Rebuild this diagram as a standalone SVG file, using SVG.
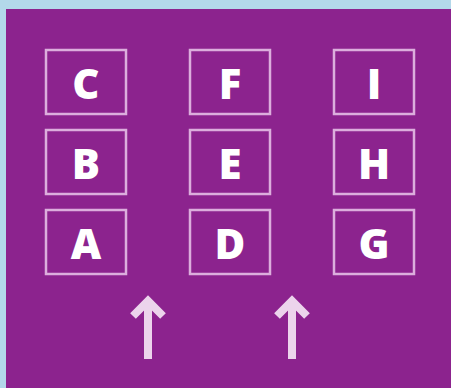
<svg xmlns="http://www.w3.org/2000/svg" width="451" height="388" viewBox="0 0 451 388">
<style>
.box{fill:none;stroke:#dcaedd;stroke-width:2.5}
.lbl{fill:#ffffff;font-family:"Open Sans","Liberation Sans",sans-serif;font-weight:800;font-size:42px;text-anchor:middle}
.arr{fill:none;stroke:#ecd4ec;stroke-width:8;stroke-linejoin:miter}
</style>
<rect x="0" y="0" width="451" height="388" fill="#b3d8ea"/>
<rect x="6" y="9" width="445" height="379" fill="#8c238e"/>
<g id="C"><rect class="box" x="46" y="50" width="80" height="64"/><text class="lbl" x="86" y="99">C</text></g>
<g id="B"><rect class="box" x="46" y="130" width="80" height="64"/><text class="lbl" x="86" y="179">B</text></g>
<g id="A"><rect class="box" x="46" y="210" width="80" height="64"/><text class="lbl" x="86" y="259">A</text></g>
<g id="F"><rect class="box" x="190" y="50" width="80" height="64"/><text class="lbl" x="230" y="99">F</text></g>
<g id="E"><rect class="box" x="190" y="130" width="80" height="64"/><text class="lbl" x="230" y="179">E</text></g>
<g id="D"><rect class="box" x="190" y="210" width="80" height="64"/><text class="lbl" x="230" y="259">D</text></g>
<g id="I"><rect class="box" x="334" y="50" width="80" height="64"/><text class="lbl" x="374" y="99">I</text></g>
<g id="H"><rect class="box" x="334" y="130" width="80" height="64"/><text class="lbl" x="374" y="179">H</text></g>
<g id="G"><rect class="box" x="334" y="210" width="80" height="64"/><text class="lbl" x="374" y="259">G</text></g>
<g id="connectors">
<polyline class="arr" points="133,316 148,301 163,316"/>
<line class="arr" x1="148" y1="301" x2="148" y2="359"/>
<polyline class="arr" points="277,316 292,301 307,316"/>
<line class="arr" x1="292" y1="301" x2="292" y2="359"/>
</g>
</svg>
